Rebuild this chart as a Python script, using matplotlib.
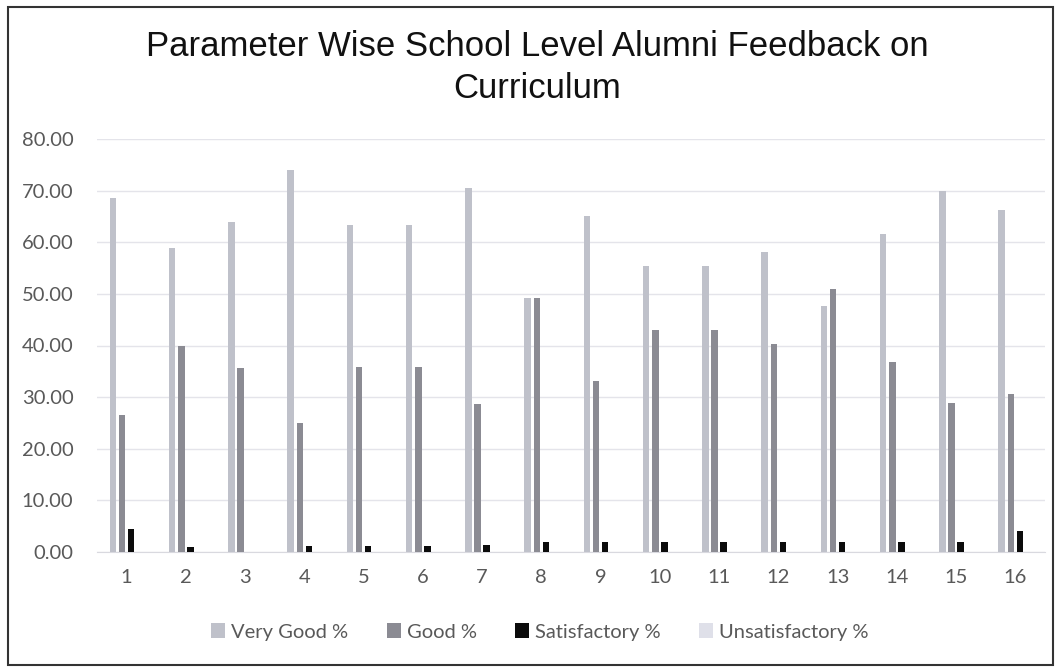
import matplotlib
matplotlib.use("Agg")
import matplotlib.pyplot as plt
from matplotlib.patches import Rectangle
import numpy as np

categories = [str(i) for i in range(1, 17)]
very_good = [68.5, 58.8, 64.0, 74.0, 63.4, 63.4, 70.6, 49.2, 65.0, 55.4, 55.4, 58.1, 47.6, 61.6, 69.9, 66.3]
good = [26.6, 40.0, 35.6, 25.0, 35.8, 35.8, 28.7, 49.2, 33.1, 43.0, 43.0, 40.3, 51.0, 36.8, 28.9, 30.6]
satisfactory = [4.4, 1.0, 0.0, 1.1, 1.2, 1.2, 1.3, 2.0, 2.0, 2.0, 2.0, 2.0, 2.0, 2.0, 2.0, 4.0]
unsatisfactory = [0.0] * 16
series_names = ["Very Good %", "Good %", "Satisfactory %", "Unsatisfactory %"]
yticks = [0, 10, 20, 30, 40, 50, 60, 70, 80]

colors = ["#bfc1ca", "#8b8b93", "#0b0b0b", "#dfe0e9"]
W, H = 1061, 667
fig = plt.figure(figsize=(W / 100, H / 100), dpi=100)
ax = fig.add_axes([97 / W, 1 - 552 / H, (1045 - 97) / W, (552 - 139) / H])

x = np.arange(len(categories))
slot = 0.155
bw = 0.11
data = [very_good, good, satisfactory, unsatisfactory]
for i, (vals, c, name) in enumerate(zip(data, colors, series_names)):
    ax.bar(x + (i - 1.5) * slot, vals, width=bw, color=c, label=name, zorder=3)

ax.set_xlim(-0.5, len(categories) - 0.5)
ax.set_ylim(0, 80)
ax.set_yticks(yticks)
ax.set_yticklabels([f"{v:.2f}" for v in yticks])
ax.set_xticks(x)
ax.set_xticklabels(categories)
ax.grid(axis="y", color="#e4e4ea", linewidth=1.0, zorder=0)
for s in ["top", "right", "left"]:
    ax.spines[s].set_visible(False)
ax.spines["bottom"].set_color("#d9d9df")
ax.tick_params(axis="both", length=0, labelsize=14.5, labelcolor="#595959")
ax.tick_params(axis="y", pad=17)
ax.tick_params(axis="x", pad=12)
for lab in ax.get_xticklabels() + ax.get_yticklabels():
    lab.set_fontfamily("Lato")

fig.text(537 / W, 1 - 46 / H, "Parameter Wise School Level Alumni Feedback on",
         ha="center", va="center", fontsize=25, family="Liberation Sans", color="#111111")
fig.text(537 / W, 1 - 88 / H, "Curriculum",
         ha="center", va="center", fontsize=25, family="Liberation Sans", color="#111111")

leg = fig.legend(loc="center", bbox_to_anchor=(540 / W, 1 - 632 / H), ncol=4, frameon=False,
                 prop={"family": "Lato", "size": 14.5}, handlelength=0.7, handleheight=0.7,
                 handletextpad=0.3, columnspacing=1.9)
for t in leg.get_texts():
    t.set_color("#595959")

fig.patches.append(Rectangle((8 / W, 1 - 665 / H), (1053 - 8) / W, (665 - 7) / H,
                             transform=fig.transFigure, fill=False, edgecolor="#333333",
                             linewidth=1.5))
fig.savefig("out.png", dpi=100)
